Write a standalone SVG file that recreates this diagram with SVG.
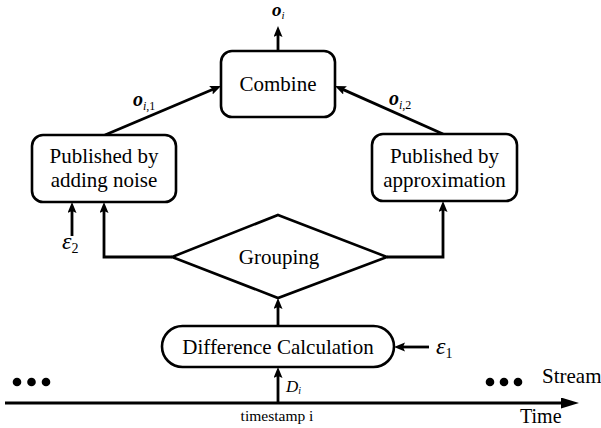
<svg xmlns="http://www.w3.org/2000/svg" width="601" height="428" viewBox="0 0 601 428">
  <style>
    .box { fill: #ffffff; stroke: #000000; stroke-width: 2.6; }
    .lbl { font-family: "Liberation Serif", "Times New Roman", serif; font-size: 21px; fill: #000000; text-anchor: middle; }
    .wire { fill: none; stroke: #000000; stroke-width: 2.8; }
    .arr { marker-end: url(#head); }
    .var { font-family: "Liberation Serif", "Times New Roman", serif; font-style: italic; fill: #000000; }
    .sub { font-family: "Liberation Serif", "Times New Roman", serif; font-style: normal; fill: #000000; }
  </style>
  <defs>
    <marker id="head" markerUnits="userSpaceOnUse" markerWidth="12" markerHeight="10" refX="5" refY="4.5" orient="auto">
      <path d="M0,0 L11,4.5 L0,9 L2,4.5 Z" fill="#000000"/>
    </marker>
    <marker id="bighead" markerUnits="userSpaceOnUse" markerWidth="20" markerHeight="12" refX="8" refY="5.5" orient="auto">
      <path d="M0,0 L18,5.5 L0,11 Z" fill="#000000"/>
    </marker>
  </defs>

  <!-- connectors -->
  <g id="connectors">
    <!-- Combine output -->
    <line class="wire arr" x1="278" y1="51" x2="278" y2="32"/>
    <!-- branch outputs into Combine -->
    <line class="wire arr" x1="105" y1="135" x2="215.5" y2="88.3"/>
    <line class="wire arr" x1="443" y1="134" x2="340.5" y2="88.4"/>
    <!-- Grouping to both publishers -->
    <polyline class="wire arr" points="172,257 104,257 104,208"/>
    <polyline class="wire arr" points="387,257 443,257 443,207"/>
    <!-- privacy budget eps2 -->
    <line class="wire arr" x1="72" y1="236" x2="72" y2="208"/>
    <!-- Difference Calculation to Grouping -->
    <line class="wire arr" x1="278" y1="326" x2="278" y2="304"/>
    <!-- privacy budget eps1 -->
    <line class="wire arr" x1="429" y1="347" x2="400" y2="347"/>
    <!-- D_i from the stream -->
    <line class="wire arr" x1="278" y1="403" x2="278" y2="373"/>
    <!-- time axis -->
    <line class="wire" x1="5" y1="403" x2="569" y2="403" marker-end="url(#bighead)"/>
  </g>

  <!-- nodes -->
  <g id="combine">
    <rect class="box" x="221" y="51" width="114" height="66" rx="11"/>
    <text class="lbl" x="278" y="91">Combine</text>
  </g>

  <g id="noise">
    <rect class="box" x="32" y="135" width="144" height="67" rx="11"/>
    <text class="lbl" x="104" y="163">Published by</text>
    <text class="lbl" x="104" y="187">adding noise</text>
  </g>

  <g id="approx">
    <rect class="box" x="372" y="134" width="145" height="67" rx="11"/>
    <text class="lbl" x="444.5" y="163">Published by</text>
    <text class="lbl" x="444.5" y="187">approximation</text>
  </g>

  <g id="grouping">
    <polygon class="box" points="278,215 387,257 278,298 172,257"/>
    <text class="lbl" x="279" y="264">Grouping</text>
  </g>

  <g id="difference">
    <rect class="box" x="162" y="326" width="232" height="41" rx="20.5"/>
    <text class="lbl" x="278" y="354">Difference Calculation</text>
  </g>

  <!-- variable labels -->
  <g id="labels">
    <text class="var" x="272" y="16" font-size="19" font-weight="bold">o<tspan font-size="11" font-weight="normal" dy="3">i</tspan></text>

    <text class="var" x="133" y="106" font-size="20" font-weight="bold">o<tspan font-size="12" font-weight="normal" dy="4">i<tspan class="sub">,1</tspan></tspan></text>

    <text class="var" x="389" y="105" font-size="20" font-weight="bold">o<tspan font-size="12" font-weight="normal" dy="4">i<tspan class="sub">,2</tspan></tspan></text>

    <text class="var" x="62" y="249" font-size="24">ε<tspan class="sub" font-size="14" dy="4">2</tspan></text>

    <text class="var" x="436" y="354" font-size="24">ε<tspan class="sub" font-size="14" dy="4">1</tspan></text>

    <text class="var" x="286" y="392" font-size="17">D<tspan font-size="10" dy="2">i</tspan></text>

    <text class="sub" x="277" y="421" font-size="15.5" text-anchor="middle">timestamp i</text>
  </g>

  <!-- stream markers -->
  <g id="stream">
    <circle cx="17" cy="382" r="4.3"/>
    <circle cx="31.5" cy="382" r="4.3"/>
    <circle cx="46" cy="382" r="4.3"/>
    <circle cx="490" cy="382" r="4.3"/>
    <circle cx="504" cy="382" r="4.3"/>
    <circle cx="518" cy="382" r="4.3"/>
    <text class="sub" x="542" y="383" font-size="21">Stream</text>
    <text class="sub" x="520" y="423" font-size="20">Time</text>
  </g>
</svg>
